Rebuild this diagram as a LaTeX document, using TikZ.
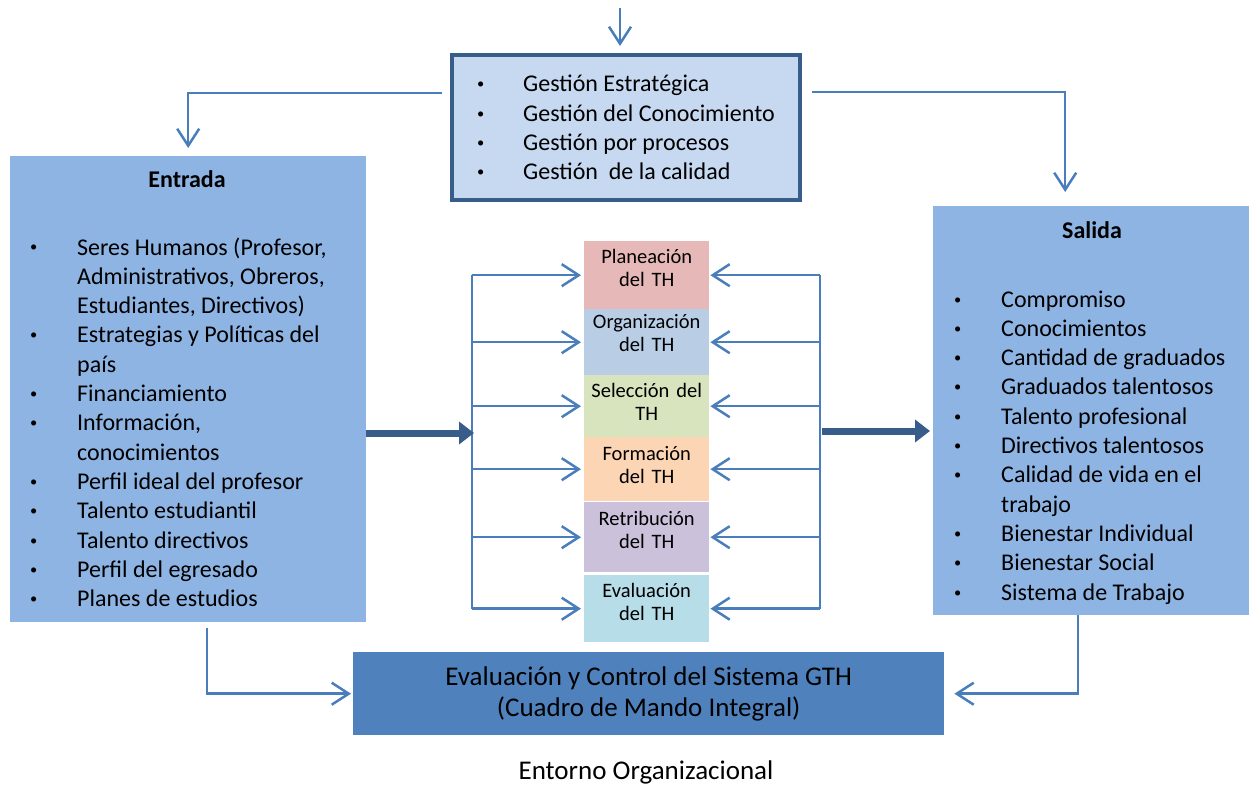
\documentclass[tikz,border=0pt]{standalone}
\usepackage{fontspec}
\setmainfont{Carlito}
\usepackage{tikz}
\usetikzlibrary{arrows.meta}
\definecolor{lineBlue}{HTML}{4A7EBB}
\definecolor{darkBlue}{HTML}{385D8A}
\definecolor{boxBlue}{HTML}{8EB4E3}
\definecolor{paleBlue}{HTML}{C6D9F1}
\definecolor{ctrlBlue}{HTML}{4F81BD}
\definecolor{thA}{HTML}{E6B9B8}
\definecolor{thB}{HTML}{B9CDE5}
\definecolor{thC}{HTML}{D7E4BD}
\definecolor{thD}{HTML}{FCD5B5}
\definecolor{thE}{HTML}{CCC1DA}
\definecolor{thF}{HTML}{B7DEE8}
\newcommand{\smallbullet}{\raisebox{3pt}{\scalebox{0.6}{•}}}

\begin{document}
\begin{tikzpicture}[x=1pt, y=-1pt,
    font=\fontsize{24}{29.3}\selectfont,
    flow/.style={draw=lineBlue, line width=2.5pt, -{Straight Barb[length=17pt,width=22pt]}},
    bigflow/.style={draw=darkBlue, line width=7pt, -{Triangle[length=15pt,width=22pt]}},
    list/.style={anchor=base west, inner sep=0pt, align=left},
    thbox/.style={fill=#1, anchor=north west, inner sep=0pt, text width=125pt, align=center,
        font=\fontsize{20.5}{23.5}\selectfont}]
    \useasboundingbox (0,0) rectangle (1249,786);

    % draw main boxes
    \node[fill=boxBlue, minimum width=356pt, minimum height=466pt, inner sep=0pt, anchor=north west] (entrada) at (10,156) {};
    \node[fill=boxBlue, minimum width=316pt, minimum height=409pt, inner sep=0pt, anchor=north west] (salida) at (933,206) {};
    \node[fill=paleBlue, draw=darkBlue, line width=4pt, minimum width=348pt, minimum height=145pt, inner sep=0pt] (gestion) at (626,127.5) {};
    \node[fill=ctrlBlue, minimum width=591pt, minimum height=83pt, inner sep=0pt, anchor=north west, align=center,
        font=\fontsize{27}{31}\selectfont] (control) at (353,652) {Evaluación y Control del Sistema GTH\\(Cuadro de Mando Integral)};

    % draw titles and lists
    \node[anchor=base, font=\fontsize{24}{29.3}\selectfont\bfseries] (entradatit) at (187,188) {Entrada};
    \node[anchor=base, font=\fontsize{24}{29.3}\selectfont\bfseries] (salidatit) at (1092,239) {Salida};

    \node[list] (gestionlist) at (477,92) {\begin{tabular}[t]{@{}p{46pt}@{}l@{}}
        \smallbullet & Gestión Estratégica\\
        \smallbullet & Gestión del Conocimiento\\
        \smallbullet & Gestión por procesos\\
        \smallbullet & Gestión\ \ de la calidad
    \end{tabular}};

    \node[list] (entradalist) at (30,255) {\begin{tabular}[t]{@{}p{47pt}@{}l@{}}
        \smallbullet & Seres Humanos (Profesor,\\
          & Administrativos, Obreros,\\
          & Estudiantes, Directivos)\\
        \smallbullet & Estrategias y Políticas del\\
          & país\\
        \smallbullet & Financiamiento\\
        \smallbullet & Información,\\
          & conocimientos\\
        \smallbullet & Perfil ideal del profesor\\
        \smallbullet & Talento estudiantil\\
        \smallbullet & Talento directivos\\
        \smallbullet & Perfil del egresado\\
        \smallbullet & Planes de estudios
    \end{tabular}};

    \node[list] (salidalist) at (954,307) {\begin{tabular}[t]{@{}p{47pt}@{}l@{}}
        \smallbullet & Compromiso\\
        \smallbullet & Conocimientos\\
        \smallbullet & Cantidad de graduados\\
        \smallbullet & Graduados talentosos\\
        \smallbullet & Talento profesional\\
        \smallbullet & Directivos talentosos\\
        \smallbullet & Calidad de vida en el\\
          & trabajo\\
        \smallbullet & Bienestar Individual\\
        \smallbullet & Bienestar Social\\
        \smallbullet & Sistema de Trabajo
    \end{tabular}};

    % draw TH process boxes
    \node[thbox=thA, text height=22pt, text depth=46pt] (plan) at (584,241) {Planeación\\del TH};
    \node[thbox=thB, text height=19pt, text depth=47pt] (org) at (584,309) {Organización\\del TH};
    \node[thbox=thC, text height=22pt, text depth=40pt] (sel) at (584,375) {Selección del\\TH};
    \node[thbox=thD, text height=23pt, text depth=41pt] (form) at (584,437) {Formación\\del TH};
    \node[thbox=thE, text height=23pt, text depth=47pt] (retr) at (584,502) {Retribución\\del TH};
    \node[thbox=thF, text height=22pt, text depth=45pt] (eval) at (584,575) {Evaluación\\del TH};

    \node[font=\fontsize{27}{31}\selectfont] (entorno) at (646,772) {Entorno Organizacional};

    % draw connectors
    \coordinate (topin) at (620,8);
    \coordinate (gleft) at (442,93);
    \coordinate (gright) at (812,92);
    \coordinate (ebot) at (207,628);
    \coordinate (sbot) at (1078,615);
    \coordinate (lmid) at (472,433);
    \coordinate (rmid) at (820,431);

    \draw[flow, shorten >=7pt] (topin) -- (gestion.north -| topin);
    \draw[flow, shorten >=8pt] (gleft) -| (entrada.north);
    \draw[flow, shorten >=14pt] (gright) -| ([xshift=-26pt]salida.north);
    \draw[flow, shorten >=2pt] (ebot) |- (control.west);
    \draw[flow, shorten >=10pt] (sbot) |- (control.east);

    \draw[draw=lineBlue, line width=2.5pt] (lmid |- plan.west) -- (lmid |- eval.west);
    \draw[draw=lineBlue, line width=2.5pt] (rmid |- plan.east) -- (rmid |- eval.east);
    \foreach \b in {plan,org,sel,form,retr,eval} {
        \draw[flow, shorten >=3pt] (lmid |- \b.west) -- (\b.west);
        \draw[flow, shorten >=1pt] (rmid |- \b.east) -- (\b.east);
    }

    \draw[bigflow] (entrada.east |- lmid) -- ([xshift=2pt]lmid);
    \draw[bigflow, shorten >=3pt] ([xshift=2pt]rmid) -- (salida.west |- rmid);
\end{tikzpicture}
\end{document}
